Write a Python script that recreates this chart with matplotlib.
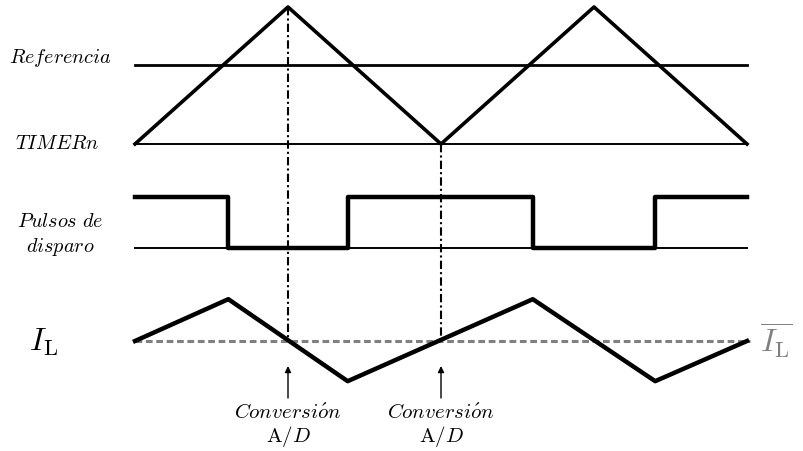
import numpy as np
import matplotlib
matplotlib.use('Agg')
from matplotlib import pyplot as plt

plt.rcParams['mathtext.fontset'] = 'cm'
plt.rcParams['font.family'] = 'serif'

# time in half periods of the carrier
t_tri = [0, 1, 2, 3, 4]
tri = [0, 1, 0, 1, 0]
ref_level = 0.58

# gate pulses (1 = on)
t_pulse = [0, 0.61, 0.61, 1.39, 1.39, 2.60, 2.60, 3.40, 3.40, 4]
pulse = [1, 1, 0, 0, 1, 1, 0, 0, 1, 1]

# inductor current (relative to its mean)
t_cur = [0, 0.61, 1.39, 2.60, 3.40, 4]
cur = [0, 0.51, -0.49, 0.51, -0.49, 0]

t_conv = [1, 2]

if __name__ == '__main__':
    fig = plt.figure(figsize=(8.04, 4.52), dpi=100)
    ax = fig.add_axes([0, 0, 1, 1])
    ax.set_xlim(-135 / 153, (804 - 135) / 153)
    ax.set_ylim(452, 0)
    ax.axis('off')

    # vertical offsets / scales of each trace
    tri_base, tri_h = 145, 137
    ref_y = tri_base - tri_h * ref_level
    p_low, p_h = 249, 51
    i_mean, i_h = 342, 82

    tri_y = tri_base - tri_h * np.array(tri)
    ax.plot([0, 4], [ref_y, ref_y], color='black', lw=2.0)
    ax.plot([0, 4], [tri_base, tri_base], color='black', lw=1.4)
    ax.plot(t_tri, tri_y, color='black', lw=2.6)

    ax.plot([0, 4], [p_low, p_low], color='black', lw=1.4)
    ax.plot(t_pulse, p_low - p_h * np.array(pulse), color='black', lw=3.2)

    ax.plot([0, 4.02], [i_mean, i_mean], color='#808080', lw=2.2, ls=(0, (2.2, 1.2)))
    ax.plot(t_cur, i_mean - i_h * np.array(cur), color='black', lw=3.2)

    # A/D conversion instants
    for tc in t_conv:
        y0 = np.interp(tc, t_tri, tri_y)
        ax.plot([tc, tc], [y0, i_mean], color='black', lw=1.5, ls=(0, (4, 1.5, 1, 1.5)))
        ax.annotate('', xy=(tc, 367), xytext=(tc, 399),
                    arrowprops=dict(arrowstyle='-|>', color='black', lw=1.0,
                                    mutation_scale=9, shrinkA=0, shrinkB=0))
        ax.text(tc, 413, r'$\mathit{Conversi\acute{o}n}$', ha='center', va='center', fontsize=15)
        ax.text(tc, 437, r'$\mathrm{A}/D$', ha='center', va='center', fontsize=15)

    ax.text(-0.15, 58, r'$\mathit{Referencia}$', ha='right', va='center', fontsize=14.6)
    ax.text(-0.23, 144, r'$\mathit{TIMERn}$', ha='right', va='center', fontsize=14.6)
    ax.text(-0.49, 222, r'$\mathit{Pulsos\ de}$', ha='center', va='center', fontsize=14.6)
    ax.text(-0.49, 247, r'$\mathit{disparo}$', ha='center', va='center', fontsize=14.6)
    ax.text(-0.60, i_mean, r'$I_{\mathrm{L}}$', ha='center', va='center', fontsize=23)
    ax.text(4.19, i_mean - 2, r'$\overline{I_{\mathrm{L}}}$', ha='center', va='center',
            fontsize=23, color='#808080')

    fig.savefig('out.png', dpi=100)
